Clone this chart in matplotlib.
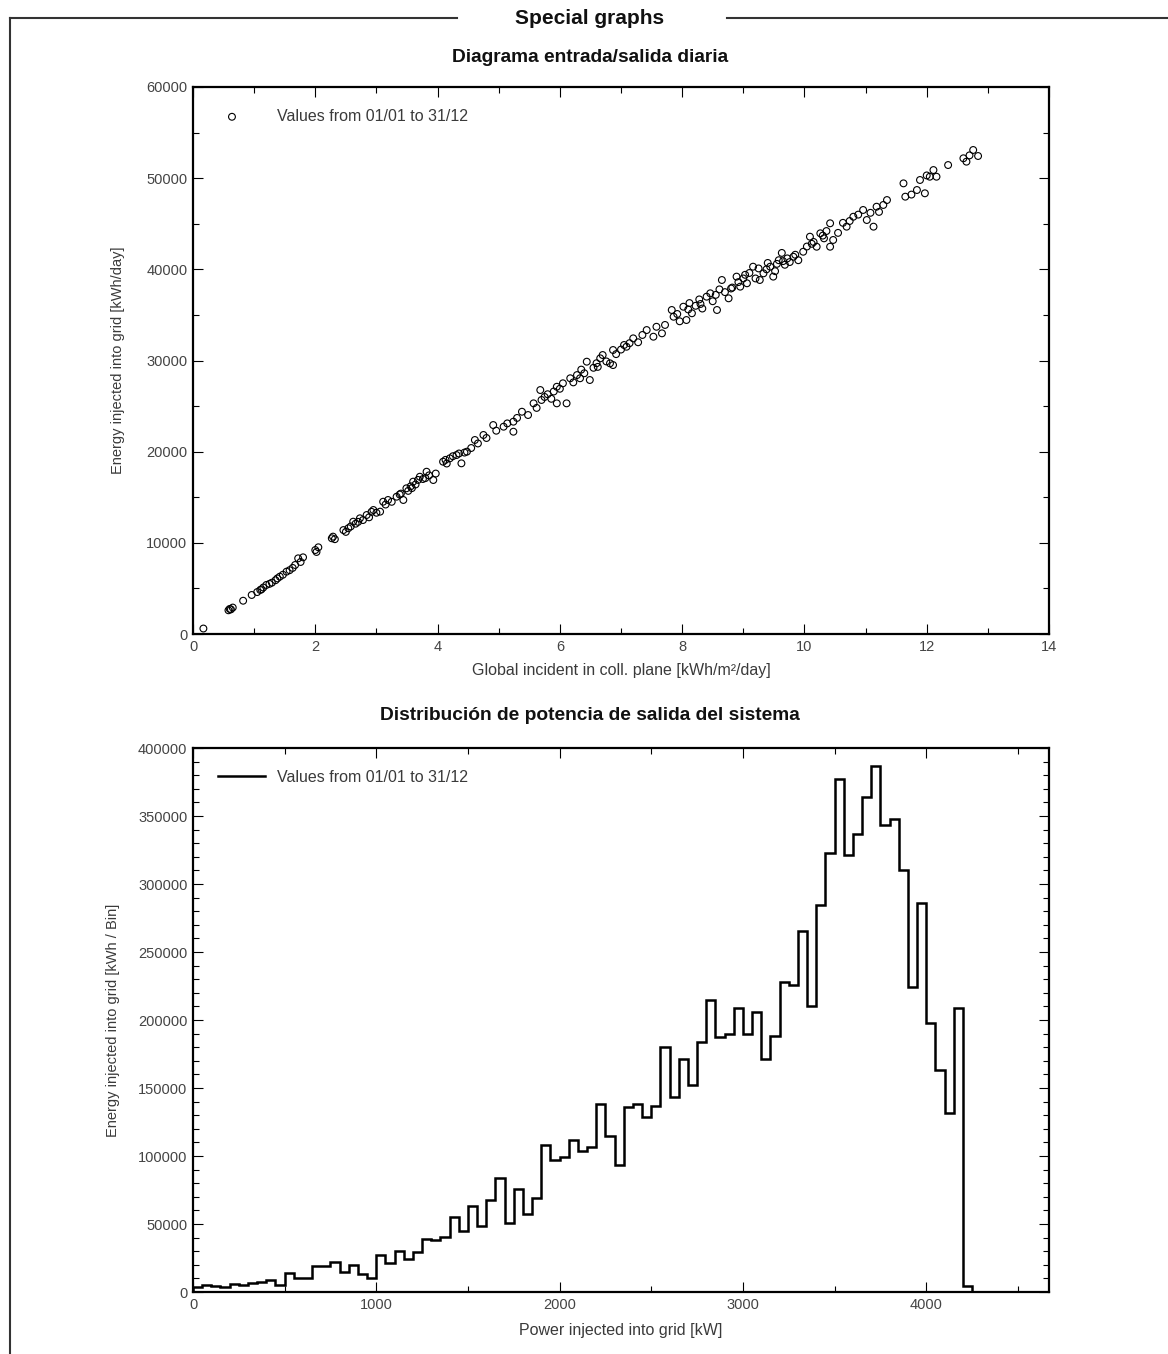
import matplotlib
matplotlib.use("Agg")
import matplotlib.pyplot as plt
import numpy as np
from matplotlib.lines import Line2D
from matplotlib.ticker import MultipleLocator

plt.rcParams['font.family'] = ['Liberation Sans', 'DejaVu Sans']

# daily input/output diagram
irr = [0.17, 0.58, 0.60, 0.62, 0.65, 0.82, 0.96, 1.05, 1.10, 1.15, 1.20, 1.25, 1.29,
       1.35, 1.42, 1.47, 1.53, 1.58, 1.63, 1.67, 1.72, 1.76, 1.80, 2.00, 2.05, 2.02,
       2.27, 2.29, 2.32, 2.46, 2.50, 2.54, 2.58, 2.62, 2.66, 2.73, 2.78, 2.84, 2.88,
       2.95, 3.00, 3.06, 3.11, 3.15, 3.19, 3.25, 3.33, 3.38, 3.44, 3.49, 3.52, 3.56,
       3.60, 3.64, 3.68, 3.71, 3.76, 3.82, 3.86, 3.93, 3.97, 4.09, 4.13, 4.20, 4.25,
       4.31, 4.39, 4.44, 4.48, 4.55, 4.61, 4.66, 4.75, 4.80, 4.91, 4.96, 5.08, 5.14,
       5.24, 5.24, 5.30, 5.38, 5.48, 5.57, 5.62, 5.68, 5.70, 5.75, 5.80, 5.86, 5.95,
       5.95, 6.00, 6.05, 6.11, 6.17, 6.22, 6.28, 6.33, 6.40, 6.44, 6.49, 6.55, 6.60,
       6.66, 6.70, 6.76, 6.82, 6.87, 6.87, 6.92, 7.00, 7.09, 7.14, 7.20, 7.28, 7.35,
       7.42, 7.53, 7.58, 7.67, 7.72, 7.83, 7.86, 7.92, 7.96, 8.02, 8.07, 8.12, 8.16,
       8.22, 8.28, 8.33, 8.40, 8.46, 8.50, 8.57, 8.61, 8.65, 8.70, 8.76, 8.82, 8.89,
       8.92, 8.95, 9.00, 9.06, 9.10, 9.16, 9.20, 9.27, 9.33, 9.38, 9.44, 9.49, 9.55,
       9.58, 9.63, 9.68, 9.72, 9.76, 9.82, 9.90, 9.98, 10.04, 10.09, 10.15, 10.20,
       10.26, 10.32, 10.36, 10.42, 10.42, 10.47, 10.55, 10.63, 10.69, 10.74, 10.80,
       10.88, 10.96, 11.02, 11.08, 11.13, 11.18, 11.22, 11.29, 11.35, 11.62, 11.65,
       11.75, 11.84, 11.89, 11.97, 12.00, 12.05, 12.11, 12.16, 12.35, 12.60, 12.65,
       12.70, 12.76, 12.84,
       3.40, 3.58, 3.80, 4.15, 4.35, 8.10, 8.30, 8.55, 8.80, 9.03, 9.25, 9.40, 9.52,
       9.65, 9.85, 10.12, 10.30, 1.12, 1.38, 2.70, 2.92, 5.90, 6.35, 6.62, 7.05]
energy = [600, 2600, 2750, 2700, 2900, 3650, 4280, 4600, 4830, 5100, 5380, 5500, 5630,
          5900, 6290, 6500, 6840, 7000, 7250, 7570, 8300, 7900, 8410, 9210, 9510, 9000,
          10500, 10680, 10400, 11400, 11200, 11600, 11800, 12320, 12100, 12690, 12500,
          13050, 12800, 13600, 13300, 13420, 14510, 14200, 14700, 14500, 15060, 15300,
          14700, 15980, 15700, 16200, 16710, 16400, 16900, 17250, 17000, 17800, 17400,
          16890, 17600, 18900, 19100, 19270, 19500, 19630, 18720, 19900, 20000, 20400,
          21280, 20900, 21830, 21500, 22920, 22300, 22740, 23100, 22190, 23290, 23700,
          24380, 24020, 25300, 24800, 26760, 25670, 26000, 26300, 25800, 27120, 25300,
          26900, 27500, 25300, 28050, 27600, 28400, 28050, 28600, 29870, 27860, 29200,
          29700, 30240, 30600, 29900, 29690, 31150, 29500, 30700, 31200, 31510, 31900,
          32430, 32000, 32800, 33340, 32610, 33700, 32980, 33900, 35540, 34800, 35100,
          34300, 35900, 34440, 36300, 35180, 36000, 36700, 35700, 37000, 37370, 36500,
          35540, 37800, 38830, 37500, 36820, 38000, 39200, 38600, 38100, 39000, 38470,
          39600, 40290, 39000, 38830, 39560, 40000, 40290, 39200, 40600, 41000, 41800,
          40500, 41200, 40800, 41380, 41000, 41930, 42500, 43580, 43000, 42480, 43950,
          43400, 44200, 45050, 42480, 43220, 44000, 45100, 44680, 45300, 45770, 46000,
          46510, 45410, 46200, 44680, 46870, 46300, 47060, 47600, 49430, 47970, 48200,
          48700, 49800, 48340, 50300, 50160, 50890, 50160, 51440, 52180, 51810, 52500,
          53090, 52430,
          15400, 16000, 17100, 18700, 19800, 35600, 36200, 37200, 37900, 39400, 40100,
          40700, 39800, 40900, 41600, 42800, 43700, 4900, 6100, 12300, 13400, 26600,
          29000, 29300, 31700]

# output power distribution, 50 kW bins
bin_width = 50
bin_energy = [4000, 5000, 4500, 4000, 6000, 5500, 6500, 7500, 8500, 5500,
              14000, 10500, 10500, 19000, 19000, 22000, 15000, 19500, 13000, 10500,
              27000, 21000, 30500, 24000, 29500, 39000, 38500, 40500, 55000, 45000,
              63500, 48500, 67500, 83500, 50500, 76000, 57000, 69000, 108000, 97000,
              99000, 111500, 104000, 106500, 138500, 114500, 93500, 136000, 138000, 129000,
              136500, 180500, 143500, 171000, 152000, 183500, 214500, 187500, 190000, 208500,
              190000, 206000, 171500, 188000, 228000, 225500, 265500, 210000, 284500, 322500,
              377000, 321500, 337000, 364000, 387000, 343500, 347500, 310000, 224000, 286000,
              197500, 163000, 131500, 208500, 4500]

legend_text = "Values from 01/01 to 31/12"
txt = '#3a3a3a'
W, H = 1168, 1354


def style_axes(ax):
    for s in ax.spines.values():
        s.set_linewidth(1.6)
    ax.tick_params(which='both', direction='in', top=True, right=True,
                   labelsize=10.5, labelcolor='#444444', pad=4)
    ax.tick_params(which='major', length=7, width=0.8)
    ax.tick_params(which='minor', length=4, width=0.8)


fig = plt.figure(figsize=(W / 100, H / 100), dpi=100)

ax1 = fig.add_axes([193 / W, 1 - 634 / H, 856 / W, 547 / H])
ax1.scatter(irr, energy, s=24, facecolors='none', edgecolors='black',
            linewidths=0.8, label=legend_text)
ax1.set_xlim(0, 14)
ax1.set_ylim(0, 60000)
ax1.xaxis.set_major_locator(MultipleLocator(2))
ax1.xaxis.set_minor_locator(MultipleLocator(1))
ax1.yaxis.set_major_locator(MultipleLocator(10000))
ax1.yaxis.set_minor_locator(MultipleLocator(5000))
style_axes(ax1)
ax1.set_xlabel("Global incident in coll. plane [kWh/m²/day]", fontsize=11.5,
               color=txt, va='center')
ax1.xaxis.set_label_coords(0.5, (634 - 670) / 547)
ax1.set_ylabel("Energy injected into grid [kWh/day]", fontsize=10.5, color=txt,
               va='center')
ax1.yaxis.set_label_coords((118 - 193) / 856, 0.5)
ax1.legend(loc='upper left', bbox_to_anchor=(0.0194, 0.9715), borderaxespad=0,
           frameon=False, fontsize=11.5, handlelength=2.0, handletextpad=1.8,
           labelcolor=txt)

ax2 = fig.add_axes([193 / W, 1 - 1292 / H, 856 / W, 544 / H])
edges = np.arange(len(bin_energy) + 1) * bin_width
ax2.stairs(bin_energy, edges, color='black', linewidth=1.8, baseline=0,
           label=legend_text)
ax2.set_xlim(0, 4670)
ax2.set_ylim(0, 400000)
ax2.xaxis.set_major_locator(MultipleLocator(1000))
ax2.xaxis.set_minor_locator(MultipleLocator(500))
ax2.yaxis.set_major_locator(MultipleLocator(50000))
ax2.yaxis.set_minor_locator(MultipleLocator(10000))
style_axes(ax2)
ax2.set_xlabel("Power injected into grid [kW]", fontsize=11.5, color=txt, va='center')
ax2.xaxis.set_label_coords(0.5, (1292 - 1330) / 544)
ax2.set_ylabel("Energy injected into grid [kWh / Bin]", fontsize=10.5, color=txt,
               va='center')
ax2.yaxis.set_label_coords((113 - 193) / 856, 0.5)
ax2.legend(loc='upper left', bbox_to_anchor=(0.0217, 0.9713), borderaxespad=0,
           frameon=False, fontsize=11.5, handlelength=2.94, handletextpad=0.75,
           labelcolor=txt)

# titles
fig.text(590 / W, 1 - 57 / H, "Diagrama entrada/salida diaria", ha='center',
         va='center', fontsize=13.8, fontweight='bold', color='#111111')
fig.text(590 / W, 1 - 716 / H, "Distribución de potencia de salida del sistema",
         ha='center', va='center', fontsize=13.8, fontweight='bold', color='#111111')

# section frame with header
fy = 1 - 18 / H
fig.add_artist(Line2D([10 / W, 10 / W], [0, fy], color='#333333', lw=1.5))
fig.add_artist(Line2D([10 / W, 457 / W], [fy, fy], color='#333333', lw=1.5))
fig.add_artist(Line2D([727 / W, 1.0], [fy, fy], color='#333333', lw=1.5))
fig.text(590 / W, fy, "Special graphs", ha='center', va='center', fontsize=15,
         fontweight='bold', color='#111111')

fig.savefig("out.png", dpi=100)
